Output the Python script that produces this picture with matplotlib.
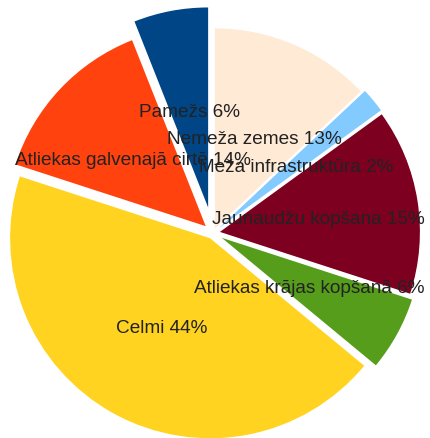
import matplotlib
matplotlib.use("Agg")
import matplotlib.pyplot as plt

# Shares of harvest residue sources, clockwise from 12 o'clock.
labels = ["Nemeža zemes", "Meža infrastruktūra", "Jaunaudžu kopšana",
          "Atliekas krājas kopšanā", "Celmi", "Atliekas galvenajā cirtē",
          "Pamežs"]
shares = [13, 2, 15, 6, 44, 14, 6]
colors = ["#FFEAD6", "#83CAFF", "#7E0021", "#579D1C", "#FFD320",
          "#FF420E", "#004586"]
explode = [0.025, 0.04, 0.035, 0.05, 0.03, 0.05, 0.13]

plt.rcParams["font.family"] = ["Liberation Sans", "DejaVu Sans"]

fig = plt.figure(figsize=(4.31, 4.39), dpi=100)
ax = fig.add_axes([0, 0, 1, 1])
wedges, texts = ax.pie(
    shares, labels=[f"{l} {s}%" for l, s in zip(labels, shares)],
    colors=colors, explode=explode, startangle=90, counterclock=False,
    labeldistance=0.5, textprops={"fontsize": 13.7, "color": "#222222"})
for t in texts:
    t.set_ha("center")
    t.set_va("center_baseline")

ax.set_xlim(-213 / 200, (431 - 213) / 200)
ax.set_ylim(-(439 - 234) / 200, 234 / 200)
ax.axis("off")
fig.savefig("out.png", dpi=100)
